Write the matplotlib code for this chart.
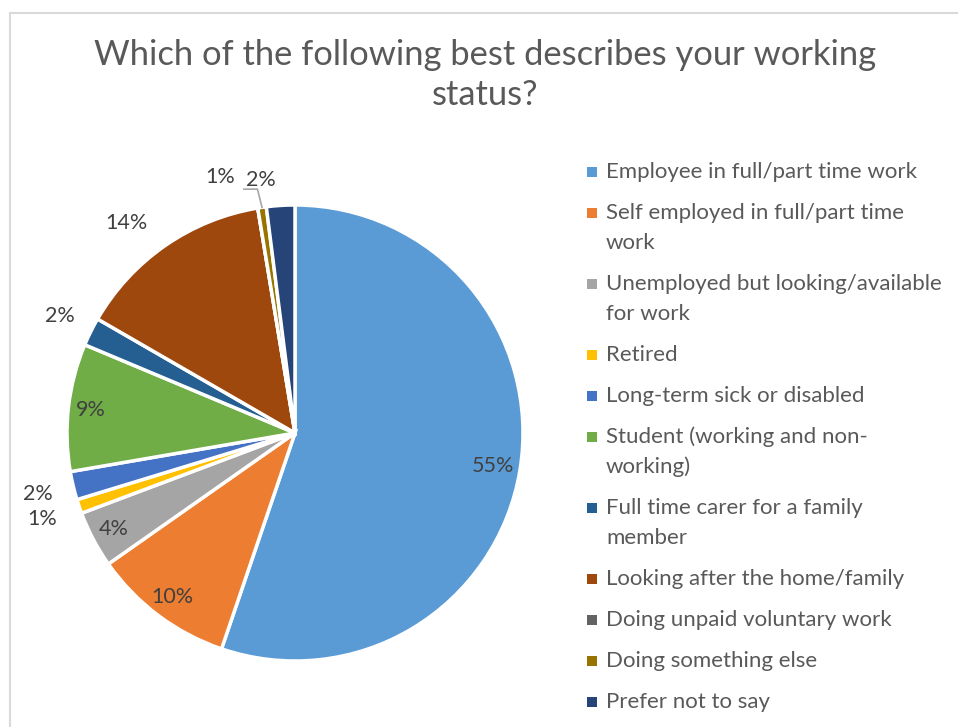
import numpy as np
import matplotlib
matplotlib.use("Agg")
import matplotlib.pyplot as plt
from matplotlib.patches import Rectangle

plt.rcParams['font.family'] = ['Lato', 'DejaVu Sans']

title = "Which of the following best describes your working\nstatus?"

categories = [
    "Employee in full/part time work",
    "Self employed in full/part time\nwork",
    "Unemployed but looking/available\nfor work",
    "Retired",
    "Long-term sick or disabled",
    "Student (working and non-\nworking)",
    "Full time carer for a family\nmember",
    "Looking after the home/family",
    "Doing unpaid voluntary work",
    "Doing something else",
    "Prefer not to say",
]
shares = [55, 10, 4, 1, 2, 9, 2, 14, 0, 0.6, 2]
colors = ["#5B9BD5", "#ED7D31", "#A5A5A5", "#FFC000", "#4472C4", "#70AD47",
          "#255E91", "#9E480E", "#636363", "#997300", "#264478"]

# label radius (in pie radii) and angular nudge in degrees, per slice
label_r = [0.88, 0.9, 0.9, 1.17, 1.16, 0.9, 1.15, 1.18, 1.15, 1.17, 1.12]
label_nudge = [0, 0, 0, 0, 0, 0, 0, -4, 0, -8, -4]

W, H = 958, 727
fig = plt.figure(figsize=(W / 100, H / 100), dpi=100)

# chart frame
fig.patches.append(Rectangle((10 / W, -0.05), 1.2, 1 - 13 / H + 0.05,
                             transform=fig.transFigure, fill=False,
                             edgecolor="#D9D9D9", linewidth=1.5))

fig.text(485 / W, 1 - 75 / H, title, ha="center", va="center",
         fontsize=24.8, color="#595959", linespacing=1.32)

cx, cy, rad = 295, 433, 228
ax = fig.add_axes([(cx - rad) / W, (H - cy - rad) / H, 2 * rad / W, 2 * rad / H])
wedges, _ = ax.pie(shares, colors=colors, startangle=90, counterclock=False,
                   wedgeprops=dict(edgecolor="white", linewidth=2.5))
ax.set_xlim(-1, 1)
ax.set_ylim(-1, 1)
ax.set_aspect("equal")
ax.axis("off")

total = sum(shares)
for w, s, r, dn in zip(wedges, shares, label_r, label_nudge):
    if s == 0:
        continue
    ang = np.deg2rad((w.theta1 + w.theta2) / 2 - dn)
    x, y = r * np.cos(ang), r * np.sin(ang)
    ax.text(x, y, f"{round(100 * s / total):.0f}%", ha="center", va="center",
            fontsize=15.5, color="#404040", clip_on=False)

# leader line for the thin "something else" slice
w = wedges[9]
mid = np.deg2rad((w.theta1 + w.theta2) / 2)
p0 = np.array([np.cos(mid), np.sin(mid)])
p1 = np.array([np.cos(mid) - 0.02, np.sin(mid) + 0.08])
p2 = np.array([p1[0] - 0.06, p1[1]])
ax.plot([p0[0], p1[0], p2[0]], [p0[1], p1[1], p2[1]], color="#A6A6A6",
        linewidth=1.2, clip_on=False)

# legend, one text per line so wrapped entries stay aligned
y = 172
for name, c in zip(categories, colors):
    fig.patches.append(Rectangle((587 / W, 1 - (y + 5) / H), 10 / W, 10 / H,
                                 transform=fig.transFigure, facecolor=c,
                                 edgecolor="none"))
    lines = name.split("\n")
    for i, line in enumerate(lines):
        fig.text(606 / W, 1 - (y + 30 * i) / H, line, ha="left", va="center",
                 fontsize=16, color="#595959")
    y += 41 + 30 * (len(lines) - 1)

fig.savefig("out.png", dpi=100)
